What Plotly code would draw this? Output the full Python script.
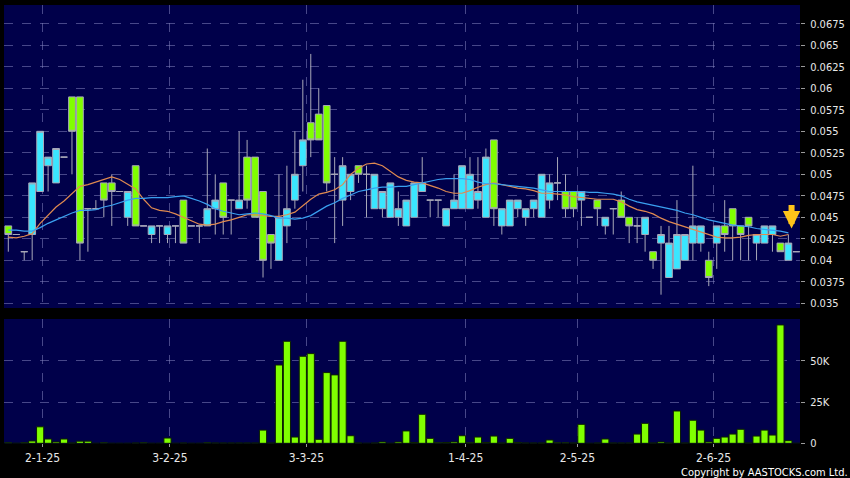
import plotly.graph_objects as go

# ---------------- data ----------------
opens = [0.044, 0.043, 0.041, 0.043, 0.048, 0.051, 0.049, 0.052, 0.059, 0.059,
         0.046, 0.046, 0.049, 0.049, 0.048, 0.045, 0.051, 0.044, 0.043, 0.044,
         0.043, 0.044, 0.047, 0.044, 0.044, 0.044, 0.046, 0.049, 0.047, 0.046,
         0.052, 0.052, 0.048, 0.043, 0.040, 0.044, 0.047, 0.051, 0.056, 0.057,
         0.058, 0.050, 0.047, 0.048, 0.051, 0.050, 0.046, 0.046, 0.045, 0.045,
         0.044, 0.045, 0.048, 0.047, 0.047, 0.044, 0.046, 0.046, 0.046, 0.047,
         0.045, 0.054, 0.044, 0.044, 0.046, 0.045, 0.046, 0.045, 0.047, 0.049,
         0.048, 0.048, 0.047, 0.045, 0.047, 0.044, 0.046, 0.047, 0.045, 0.044,
         0.043, 0.041, 0.042, 0.038, 0.039, 0.040, 0.042, 0.042, 0.040, 0.042,
         0.044, 0.046, 0.044, 0.045, 0.042, 0.042, 0.043, 0.042, 0.040, 0.041]
highs = [0.044, 0.043, 0.041, 0.049, 0.055, 0.052, 0.053, 0.052, 0.059, 0.059,
         0.046, 0.047, 0.049, 0.050, 0.048, 0.048, 0.051, 0.044, 0.044, 0.044,
         0.044, 0.044, 0.047, 0.044, 0.044, 0.053, 0.050, 0.049, 0.047, 0.055,
         0.054, 0.052, 0.048, 0.043, 0.050, 0.051, 0.055, 0.061, 0.064, 0.060,
         0.058, 0.052, 0.052, 0.050, 0.051, 0.051, 0.050, 0.048, 0.049, 0.048,
         0.047, 0.049, 0.052, 0.047, 0.047, 0.046, 0.050, 0.051, 0.052, 0.052,
         0.053, 0.054, 0.046, 0.047, 0.047, 0.046, 0.047, 0.050, 0.050, 0.052,
         0.050, 0.048, 0.048, 0.045, 0.047, 0.045, 0.046, 0.048, 0.045, 0.045,
         0.045, 0.041, 0.044, 0.044, 0.047, 0.043, 0.051, 0.044, 0.041, 0.044,
         0.047, 0.046, 0.044, 0.045, 0.043, 0.044, 0.044, 0.042, 0.043, 0.041]
lows = [0.041, 0.043, 0.040, 0.040, 0.048, 0.048, 0.049, 0.052, 0.050, 0.040,
        0.041, 0.046, 0.045, 0.044, 0.048, 0.044, 0.044, 0.044, 0.042, 0.042,
        0.042, 0.042, 0.042, 0.044, 0.042, 0.044, 0.043, 0.043, 0.043, 0.046,
        0.046, 0.045, 0.038, 0.039, 0.040, 0.042, 0.046, 0.048, 0.052, 0.054,
        0.048, 0.042, 0.044, 0.047, 0.049, 0.045, 0.046, 0.045, 0.045, 0.044,
        0.044, 0.045, 0.048, 0.045, 0.045, 0.044, 0.046, 0.046, 0.046, 0.046,
        0.045, 0.044, 0.043, 0.044, 0.045, 0.044, 0.045, 0.045, 0.046, 0.047,
        0.045, 0.045, 0.044, 0.045, 0.044, 0.043, 0.043, 0.045, 0.042, 0.042,
        0.041, 0.039, 0.036, 0.038, 0.039, 0.040, 0.040, 0.041, 0.037, 0.039,
        0.041, 0.040, 0.040, 0.040, 0.040, 0.042, 0.041, 0.041, 0.040, 0.041]
closes = [0.043, 0.043, 0.041, 0.049, 0.055, 0.052, 0.053, 0.052, 0.055, 0.042,
          0.046, 0.046, 0.047, 0.048, 0.048, 0.048, 0.044, 0.044, 0.044, 0.044,
          0.044, 0.044, 0.042, 0.044, 0.044, 0.046, 0.047, 0.045, 0.047, 0.047,
          0.047, 0.045, 0.040, 0.042, 0.045, 0.046, 0.050, 0.054, 0.054, 0.054,
          0.049, 0.050, 0.051, 0.050, 0.050, 0.050, 0.050, 0.048, 0.049, 0.046,
          0.047, 0.049, 0.049, 0.047, 0.047, 0.046, 0.047, 0.051, 0.050, 0.048,
          0.052, 0.046, 0.046, 0.047, 0.047, 0.046, 0.047, 0.050, 0.049, 0.049,
          0.046, 0.046, 0.048, 0.045, 0.046, 0.045, 0.046, 0.045, 0.044, 0.044,
          0.045, 0.040, 0.043, 0.042, 0.043, 0.043, 0.044, 0.044, 0.038, 0.044,
          0.043, 0.044, 0.043, 0.044, 0.043, 0.044, 0.044, 0.041, 0.042, 0.041]
volume_k = [0.3, 0.0, 0.3, 1.4, 10.0, 2.6, 0.8, 2.6, 0.2, 1.3,
            1.3, 0.0, 0.3, 0.0, 0.0, 0.0, 0.2, 0.3, 0.0, 0.0,
            3.2, 0.0, 0.2, 0.0, 0.0, 0.3, 0.2, 0.2, 0.2, 0.2,
            0.2, 0.2, 8.0, 0.2, 47.5, 61.9, 3.8, 52.8, 54.4, 2.4,
            42.9, 41.5, 61.9, 4.6, 0.2, 0.0, 0.2, 0.8, 0.0, 0.8,
            7.5, 0.5, 17.6, 3.0, 0.3, 0.5, 0.8, 4.6, 0.3, 3.8,
            0.5, 4.4, 0.2, 3.0, 0.5, 0.2, 0.2, 0.2, 2.0, 0.3,
            0.3, 0.2, 11.5, 0.0, 0.2, 2.6, 0.2, 0.2, 0.2, 5.6,
            12.1, 0.2, 0.8, 0.2, 19.6, 0.2, 14.0, 8.0, 0.8, 3.0,
            3.8, 5.6, 8.5, 0.2, 4.4, 8.0, 5.0, 71.8, 1.6, 0.0]
ma_short = [0.0427, 0.0426, 0.0428, 0.0431, 0.0443, 0.0453, 0.0462, 0.0469, 0.0478, 0.0486,
            0.0488, 0.0491, 0.0494, 0.0497, 0.0494, 0.0488, 0.0483, 0.0471, 0.0461, 0.0458,
            0.0457, 0.0454, 0.0450, 0.0446, 0.0442, 0.0441, 0.0442, 0.0445, 0.0447, 0.0450,
            0.0453, 0.0453, 0.0452, 0.0451, 0.0451, 0.0453, 0.0456, 0.0464, 0.0471, 0.0477,
            0.0479, 0.0482, 0.0488, 0.0500, 0.0507, 0.0512, 0.0513, 0.0510, 0.0503, 0.0497,
            0.0493, 0.0491, 0.0490, 0.0487, 0.0484, 0.0480, 0.0478, 0.0478, 0.0481, 0.0485,
            0.0488, 0.0490, 0.0488, 0.0486, 0.0484, 0.0483, 0.0481, 0.0478, 0.0478, 0.0477,
            0.0476, 0.0474, 0.0473, 0.0472, 0.0471, 0.0471, 0.0471, 0.0468, 0.0463, 0.0459,
            0.0457, 0.0454, 0.0449, 0.0445, 0.0442, 0.0439, 0.0436, 0.0433, 0.0430, 0.0427,
            0.0426, 0.0426, 0.0427, 0.0429, 0.0430, 0.0430, 0.0430, 0.0428, 0.0430]
ma_long = [0.0435, 0.0435, 0.0434, 0.0434, 0.0438, 0.0443, 0.0447, 0.0451, 0.0455, 0.0458,
           0.0458, 0.0459, 0.0462, 0.0464, 0.0467, 0.0470, 0.0472, 0.0472, 0.0473, 0.0473,
           0.0473, 0.0474, 0.0475, 0.0472, 0.0469, 0.0465, 0.0460, 0.0457, 0.0455, 0.0453,
           0.0454, 0.0455, 0.0454, 0.0452, 0.0449, 0.0449, 0.0448, 0.0449, 0.0452, 0.0458,
           0.0463, 0.0467, 0.0472, 0.0476, 0.0480, 0.0482, 0.0484, 0.0485, 0.0485, 0.0486,
           0.0486, 0.0488, 0.0490, 0.0492, 0.0494, 0.0495, 0.0495, 0.0495, 0.0494, 0.0491,
           0.0489, 0.0489, 0.0488, 0.0487, 0.0486, 0.0485, 0.0484, 0.0482, 0.0480, 0.0480,
           0.0480, 0.0480, 0.0480, 0.0479, 0.0479, 0.0478, 0.0477, 0.0475, 0.0471, 0.0468,
           0.0466, 0.0464, 0.0462, 0.0460, 0.0458, 0.0455, 0.0453, 0.0450, 0.0447, 0.0445,
           0.0443, 0.0441, 0.0440, 0.0439, 0.0437, 0.0436, 0.0435, 0.0434, 0.0432]
date_tick_pos = [4.3, 20.3, 37.45, 57.46, 71.5, 88.6]
date_tick_labels = ["2-1-25", "3-2-25", "3-3-25", "1-4-25", "2-5-25", "2-6-25"]
price_ticks = [0.035, 0.0375, 0.04, 0.0425, 0.045, 0.0475, 0.05, 0.0525,
               0.055, 0.0575, 0.06, 0.0625, 0.065, 0.0675]
price_tick_labels = ["0.035", "0.0375", "0.04", "0.0425", "0.045", "0.0475", "0.05",
                     "0.0525", "0.055", "0.0575", "0.06", "0.0625", "0.065", "0.0675"]
vol_ticks = [0, 25000, 50000]
vol_tick_labels = ["0", "25K", "50K"]

# ---------------- styling ----------------
W, H = 850, 478
NAVY = "#00004a"
LIME = "#80ff00"
CYAN = "#3ae6ff"
WICK = "#a8a8b8"
GRID = "rgba(130,130,190,0.55)"
TXT = "#e8e8e8"
FONT = "DejaVu Sans Condensed, DejaVu Sans, sans-serif"

idx = list(range(len(opens)))
ma_idx = list(range(len(ma_short)))
volume = [v * 1000 for v in volume_k]

fig = go.Figure()
fig.add_trace(go.Candlestick(
    x=idx, open=opens, high=highs, low=lows, close=closes,
    increasing=dict(fillcolor=CYAN, line=dict(color=WICK, width=1)),
    decreasing=dict(fillcolor=LIME, line=dict(color=WICK, width=1)),
    whiskerwidth=0, xaxis="x", yaxis="y", showlegend=False, hoverinfo="skip"))
fig.add_trace(go.Scatter(x=ma_idx, y=ma_short, mode="lines",
                         line=dict(color="#e08a50", width=1.2),
                         xaxis="x", yaxis="y", showlegend=False, hoverinfo="skip"))
fig.add_trace(go.Scatter(x=ma_idx, y=ma_long, mode="lines",
                         line=dict(color="#3aa0f0", width=1.2),
                         xaxis="x", yaxis="y", showlegend=False, hoverinfo="skip"))
fig.add_trace(go.Bar(x=idx, y=volume, width=0.9,
                     marker=dict(color=LIME, line=dict(color="#0c2000", width=1)),
                     xaxis="x2", yaxis="y2", showlegend=False, hoverinfo="skip"))

x_dom = [4 / W, 800 / W]
x_rng = [-0.54, len(opens) - 0.54]
common_x = dict(domain=x_dom, range=x_rng, tickvals=date_tick_pos, showgrid=True,
                gridcolor=GRID, griddash="dash", gridwidth=1, zeroline=False,
                showline=False, automargin=False, fixedrange=True,
                rangeslider=dict(visible=False))
fig.update_layout(
    width=W, height=H,
    margin=dict(l=0, r=0, t=0, b=0),
    paper_bgcolor="#000000", plot_bgcolor=NAVY,
    font=dict(family=FONT, color=TXT, size=11),
    boxgap=0.08, boxgroupgap=0.08,
    bargap=0.1,
    hovermode=False,
    xaxis=dict(**common_x, anchor="y", showticklabels=False, ticks=""),
    yaxis=dict(domain=[1 - 308 / H, 1 - 5 / H], range=[0.034453, 0.06969],
               side="right", tickvals=price_ticks, ticktext=price_tick_labels,
               ticks="outside", ticklen=4, tickcolor="#9a9a9a",
               ticklabelstandoff=3, fixedrange=True,
               showgrid=True, gridcolor=GRID, griddash="dash", zeroline=False,
               tickfont=dict(size=11), automargin=False, anchor="x"),
    xaxis2=dict(**common_x, anchor="y2", matches="x", ticktext=date_tick_labels,
                ticks="outside", ticklen=3, tickcolor="#9a9a9a",
                ticklabelstandoff=0,
                tickfont=dict(size=12), showticklabels=True),
    yaxis2=dict(domain=[1 - 443.3 / H, 1 - 319 / H], range=[0, 75400],
                side="right", tickvals=vol_ticks, ticktext=vol_tick_labels,
                ticks="outside", ticklen=4, tickcolor="#9a9a9a",
                ticklabelstandoff=3, fixedrange=True,
                showgrid=True, gridcolor=GRID, griddash="dash", zeroline=False,
                tickfont=dict(size=11), automargin=False, anchor="x2"),
    annotations=[
        dict(x=idx[-2] + 0.4, y=closes[-2] + 0.0017, xref="x", yref="y",
             showarrow=True, ax=0, ay=-25, arrowcolor="#ffc41a",
             arrowwidth=6, arrowhead=2, arrowsize=0.58, text=""),
        dict(x=1, y=1 - 472 / H, xref="paper", yref="paper", xanchor="right",
             yanchor="middle", showarrow=False,
             text="Copyright by AASTOCKS.com Ltd.",
             font=dict(size=11, color="#ffffff", family=FONT)),
    ],
)

fig.write_html(
    "out.html",
    config={"displayModeBar": False, "staticPlot": True},
    post_script="document.body.style.margin='0';document.body.style.background='#000';",
)
